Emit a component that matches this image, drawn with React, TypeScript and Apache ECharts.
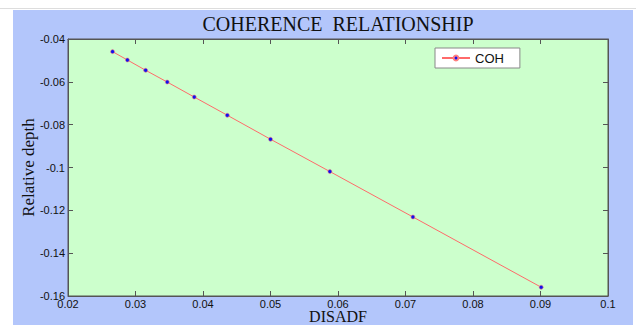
import React, { useEffect, useRef } from "react";
import * as echarts from "echarts";

const disadf = [0.0266, 0.0288, 0.0315, 0.0347, 0.0387, 0.0436, 0.05, 0.0588, 0.0711, 0.0901];
const relDepth = [-0.0459, -0.0498, -0.0546, -0.0601, -0.0671, -0.0756, -0.0868, -0.1019, -0.1231, -0.1559];
const seriesName = "COH";
const titleText = "COHERENCE  RELATIONSHIP";
const xName = "DISADF";
const yName = "Relative depth";

const fmt = (v: number) => String(+v.toFixed(2));

export default function App() {
  const ref = useRef<HTMLDivElement>(null);
  useEffect(() => {
    document.body.style.margin = "0";
    const chart = echarts.init(ref.current!, null, { renderer: "svg" });
    const data = disadf.map((x, i) => [x, relDepth[i]]);
    const axisLine = { show: true, lineStyle: { color: "#555", width: 1 } };
    const tick = { show: true, inside: true, length: 5, lineStyle: { color: "#555" } };
    chart.setOption({
      animation: false,
      backgroundColor: "#fff",
      graphic: [
        { type: "rect", shape: { x: 0, y: 8, width: 636, height: 1 }, style: { fill: "#ddd" }, silent: true },
        { type: "rect", shape: { x: 13, y: 10, width: 620, height: 315 }, style: { fill: "#b3c6fb" }, silent: true, z: -10 },
      ],
      title: {
        text: titleText,
        left: 333,
        textAlign: "center",
        top: 9,
        textStyle: { fontFamily: "Liberation Serif", fontSize: 20, fontWeight: "normal", color: "#111" },
      },
      legend: {
        data: [seriesName],
        left: 435,
        top: 48,
        backgroundColor: "#fff",
        borderColor: "#888",
        borderWidth: 1,
        borderRadius: 0,
        padding: [3, 16, 3, 6],
        itemWidth: 28,
        itemHeight: 6,
        itemGap: 4,
        textStyle: { fontFamily: "Liberation Sans", fontSize: 13, color: "#111", lineHeight: 14 },
      },
      grid: {
        left: 68,
        top: 39,
        width: 540,
        height: 257,
        show: true,
        backgroundColor: "#ccffcc",
        borderColor: "#555",
        borderWidth: 1,
        containLabel: false,
        outerBoundsMode: "none",
      },
      xAxis: [
        {
          type: "value",
          min: 0.02,
          max: 0.1,
          interval: 0.01,
          name: xName,
          nameLocation: "middle",
          nameGap: 13,
          nameMoveOverlap: false,
          nameTextStyle: { fontFamily: "Liberation Serif", fontSize: 16, lineHeight: 15, color: "#111" },
          axisLine,
          axisTick: tick,
          splitLine: { show: false },
          axisLabel: { formatter: fmt, fontFamily: "Liberation Sans", fontSize: 11, lineHeight: 11, color: "#111", margin: 2 },
        },
        {
          type: "value",
          position: "top",
          min: 0.02,
          max: 0.1,
          interval: 0.01,
          axisLine,
          axisTick: tick,
          splitLine: { show: false },
          axisLabel: { show: false },
        },
      ],
      yAxis: [
        {
          type: "value",
          min: -0.16,
          max: -0.04,
          interval: 0.02,
          name: yName,
          nameLocation: "middle",
          nameGap: 31,
          nameMoveOverlap: false,
          nameTextStyle: { fontFamily: "Liberation Serif", fontSize: 17, color: "#111" },
          axisLine,
          axisTick: tick,
          splitLine: { show: false },
          axisLabel: { formatter: fmt, fontFamily: "Liberation Sans", fontSize: 11, lineHeight: 11, color: "#111", margin: 3 },
        },
        {
          type: "value",
          position: "right",
          min: -0.16,
          max: -0.04,
          interval: 0.02,
          axisLine,
          axisTick: tick,
          splitLine: { show: false },
          axisLabel: { show: false },
        },
      ],
      series: [
        {
          name: seriesName,
          type: "line",
          data,
          symbol: "circle",
          symbolSize: 4,
          showSymbol: true,
          lineStyle: { color: "#ff6a6a", width: 1 },
          itemStyle: { color: "#1010ee", borderColor: "#ff8080", borderWidth: 0.6 },
        },
      ],
    });
    return () => chart.dispose();
  }, []);
  return <div ref={ref} style={{ position: "absolute", left: 0, top: 0, width: 636, height: 325 }} />;
}
